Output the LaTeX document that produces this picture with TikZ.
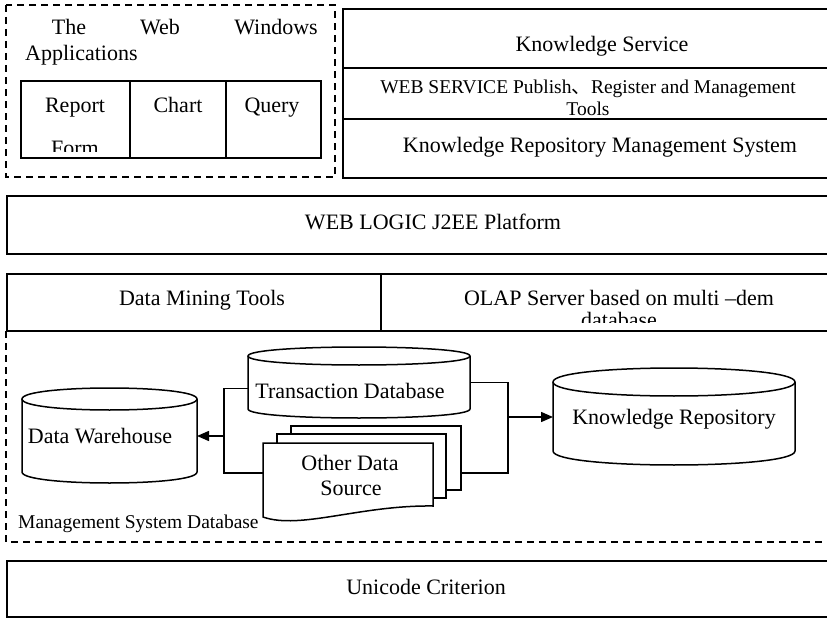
\documentclass[tikz,border=0pt]{standalone}
\usepackage{fontspec}
\setmainfont{Liberation Serif}
\newfontfamily\cjk{Noto Sans CJK SC}
\usetikzlibrary{arrows.meta,calc}
\newcommand{\mkcyl}[5]{% x1 x2 ytop-center ybottom-center ry
 \fill[white] (#1,#3) .. controls (#1,#3-1.333*#5) and (#2,#3-1.333*#5) .. (#2,#3) -- (#2,#4) .. controls (#2,#4+1.333*#5) and (#1,#4+1.333*#5) .. (#1,#4) -- cycle;
 \draw[shpline] (#1,#3) .. controls (#1,#3-1.333*#5) and (#2,#3-1.333*#5) .. (#2,#3) .. controls (#2,#3+1.333*#5) and (#1,#3+1.333*#5) .. (#1,#3) -- cycle;
 \draw[shpline] (#1,#3) -- (#1,#4) .. controls (#1,#4+1.333*#5) and (#2,#4+1.333*#5) .. (#2,#4) -- (#2,#3);
}
\begin{document}
\begin{tikzpicture}[x=1pt,y=-1pt,
  box/.style={draw=black,line width=1.8pt},
  dbox/.style={draw=black,line width=1.8pt,dash pattern=on 7pt off 5pt},
  shpline/.style={draw=black,line width=1.5pt},
  shp/.style={draw=black,line width=1.5pt,fill=white},
  conn/.style={draw=black,line width=1.5pt},
  tip/.style={-{Triangle[length=12pt,width=10pt]}},
  lbl/.style={anchor=base,inner sep=0pt,font=\fontsize{22}{24}\selectfont},
  slbl/.style={anchor=base,inner sep=0pt,font=\fontsize{19.5}{22}\selectfont},
  anch/.style={draw=none,inner sep=0pt,outer sep=0pt,rectangle}]
\useasboundingbox (0,0) rectangle (827,618);
\clip (0,0) rectangle (827,618);
\fill[white] (0,0) rectangle (827,618);

% ---- top left: web windows applications ----
\draw[dbox] (6,5) rectangle (335,177);
\draw[box] (21,81) rectangle (321,158);
\draw[box] (130,81) -- (130,158);
\draw[box] (226,81) -- (226,158);
\node[lbl] (the) at (69,35) {The};
\node[lbl] (web) at (160,35) {Web};
\node[lbl] (win) at (276,35) {Windows};
\node[lbl,anchor=base west] (apps) at (25,60) {Applications};
\node[lbl] (report) at (75,112) {Report};
\node[lbl] (chart) at (178,112) {Chart};
\node[lbl] (query) at (272,112) {Query};
\begin{scope}
\clip (22,120) rectangle (129,151);
\node[lbl] (form) at (75,155) {Form};
\end{scope}

% ---- top right: knowledge service stack ----
\draw[box] (343,9) rectangle (840,178);
\draw[box] (343,68) -- (840,68);
\draw[box] (343,119) -- (840,119);
\node[lbl] (ks) at (602,52) {Knowledge Service};
\node[slbl] (ws1) at (588,93) {WEB SERVICE Publish{\cjk 、}Register and Management};
\node[slbl] (ws2) at (588,115) {Tools};
\node[lbl] (krms) at (600,152) {Knowledge Repository Management System};

% ---- web logic ----
\draw[box] (7,196) rectangle (840,254);
\node[lbl] (wl) at (433,229) {WEB LOGIC J2EE Platform};

% ---- data mining / olap ----
\draw[box] (7,274) rectangle (840,331);
\draw[box] (381,274) -- (381,331);
\node[lbl] (dm) at (202,305) {Data Mining Tools};
\node[lbl] (olap) at (619,305) {OLAP Server based on multi –dem};
\begin{scope}
\clip (383,276) rectangle (840,322);
\node[lbl] (olap2) at (619,327) {database};
\end{scope}

% ---- management system database ----
\draw[dbox] (6,331) -- (6,542) -- (840,542);
\mkcyl{22}{197}{399}{472}{11}
\mkcyl{248}{470}{356}{409}{9}
\mkcyl{553}{795}{382}{451}{14}
\draw[shp] (291,426) rectangle (461,490);
\draw[shp] (277,434) rectangle (446,498);
\draw[shp] (263,443) -- (433,443) -- (433,506) .. controls (360,505) and (300,530) .. (263,517) -- cycle;

\node[anch,minimum width=175pt,minimum height=95pt] (dw) at (109.5,436) {};
\node[anch,minimum width=222pt,minimum height=71pt] (td) at (359,382.5) {};
\node[anch,minimum width=242pt,minimum height=97pt] (kr) at (674,417) {};
\node[anch,minimum width=170pt,minimum height=60pt] (doc1) at (348,473) {};
\node[anch,minimum width=170pt,minimum height=94pt] (doc3) at (376,473) {};

\coordinate (jl) at (224,436);
\coordinate (jr) at (508,417);
\draw[conn] ([yshift=-6pt]td.west) -| (jl) |- (doc1.west);
\draw[conn,tip] (jl) -- (dw.east);
\draw[conn] (td.east) -| (jr) |- (doc3.east);
\draw[conn,tip] (jr) -- (kr.west);

\node[lbl] (tdl) at (350,398) {Transaction Database};
\node[lbl] (dwl) at (100,443) {Data Warehouse};
\node[lbl] (krl) at (674,424) {Knowledge Repository};
\node[lbl] (od1) at (350,470) {Other Data};
\node[lbl] (od2) at (351,495) {Source};
\node[slbl,anchor=base west] (msd) at (18,528) {Management System Database};

% ---- unicode ----
\draw[box] (7,561) rectangle (840,617);
\node[lbl] (uc) at (426,594) {Unicode Criterion};
\end{tikzpicture}
\end{document}
